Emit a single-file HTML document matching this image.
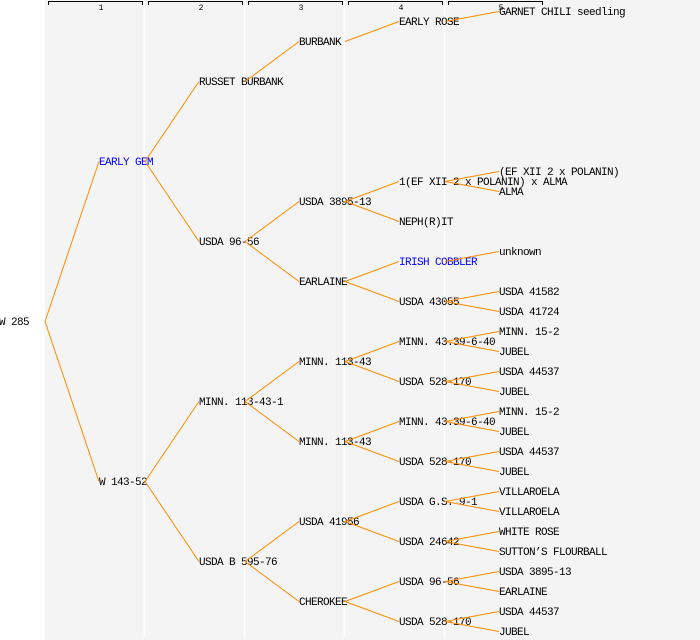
<!DOCTYPE html>
<html><head><meta charset="utf-8"><style>
html,body{margin:0;padding:0;background:#fff;}
svg{display:block}
text{font-family:"Liberation Mono","DejaVu Sans Mono",monospace;font-size:11px;letter-spacing:-0.6px;fill:#000}
</style></head><body>
<svg id="s" width="700" height="640" xmlns="http://www.w3.org/2000/svg">
<rect x="45" y="0" width="655" height="640" fill="#f4f4f4"/>
<g stroke="#fff" stroke-width="1.5">
<line x1="144.5" y1="0" x2="144.5" y2="637"/><line x1="244.5" y1="0" x2="244.5" y2="637"/>
<line x1="344.5" y1="0" x2="344.5" y2="637"/><line x1="444.5" y1="0" x2="444.5" y2="637"/>
</g>
<g fill="none" stroke="#000" stroke-width="1">
<path d="M48.5,5V1.5H142.5V5"/><path d="M148.5,5V1.5H242.5V5"/><path d="M248.5,5V1.5H342.5V5"/><path d="M348.5,5V1.5H442.5V5"/><path d="M448.5,5V1.5H542.5V5"/>
</g>
<g text-anchor="middle">
<text x="101" y="10" style="font-size:8px;letter-spacing:0">1</text><text x="201" y="10" style="font-size:8px;letter-spacing:0">2</text><text x="301" y="10" style="font-size:8px;letter-spacing:0">3</text><text x="401" y="10" style="font-size:8px;letter-spacing:0">4</text><text x="501" y="10" style="font-size:8px;letter-spacing:0">5</text>
</g>
<g id="t"></g>
<g id="l" stroke="#ff8c00" stroke-width="1" fill="none"></g>
</svg>
<script>
var tree=["W 285",322,[
 ["EARLY GEM",162,[
  ["RUSSET BURBANK",82,[["BURBANK",42,[["EARLY ROSE",22,[["GARNET CHILI seedling",12]]]]]]],
  ["USDA 96-56",242,[
   ["USDA 3895-13",202,[["1(EF XII 2 x POLANIN) x ALMA",182,[["(EF XII 2 x POLANIN)",172],["ALMA",192]]],["NEPH(R)IT",222]]],
   ["EARLAINE",282,[["IRISH COBBLER",262,[["unknown",252]]],["USDA 43055",302,[["USDA 41582",292],["USDA 41724",312]]]]]]]]],
 ["W 143-52",482,[
  ["MINN. 113-43-1",402,[
   ["MINN. 113-43",362,[["MINN. 43.39-6-40",342,[["MINN. 15-2",332],["JUBEL",352]]],["USDA 528-170",382,[["USDA 44537",372],["JUBEL",392]]]]],
   ["MINN. 113-43",442,[["MINN. 43.39-6-40",422,[["MINN. 15-2",412],["JUBEL",432]]],["USDA 528-170",462,[["USDA 44537",452],["JUBEL",472]]]]]]],
  ["USDA B 595-76",562,[
   ["USDA 41956",522,[["USDA G.S. 9-1",502,[["VILLAROELA",492],["VILLAROELA",512]]],["USDA 24642",542,[["WHITE ROSE",532],["SUTTON\u2019S FLOURBALL",552]]]]],
   ["CHEROKEE",602,[["USDA 96-56",582,[["USDA 3895-13",572],["EARLAINE",592]]],["USDA 528-170",622,[["USDA 44537",612],["JUBEL",632]]]]]]]]]]];
var NS="http://www.w3.org/2000/svg",T=document.getElementById("t"),L=document.getElementById("l");
var blue={"EARLY GEM":1,"IRISH COBBLER":1};
function walk(n,x,px,py){
 var t=document.createElementNS(NS,"text");t.setAttribute("x",x);t.setAttribute("y",n[1]+3);
 if(blue[n[0]])t.setAttribute("style","fill:#0000ff");t.textContent=n[0];T.appendChild(t);
 if(px!=null){var p=document.createElementNS(NS,"line");p.setAttribute("x1",px);p.setAttribute("y1",py-0.5);p.setAttribute("x2",x);p.setAttribute("y2",n[1]-0.5);L.appendChild(p);}
 var cx=(x<1?99:x+100);
 (n[2]||[]).forEach(function(c){walk(c,cx,cx-54,n[1]);});
}
walk(tree,-1,null,null);
</script>
</body></html>
